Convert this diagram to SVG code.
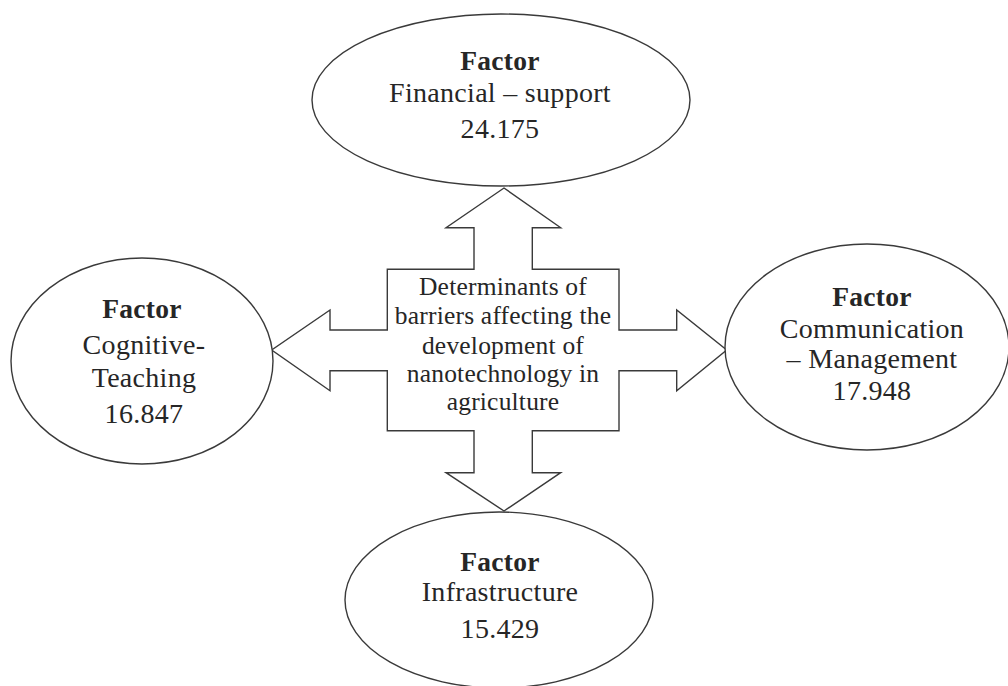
<svg xmlns="http://www.w3.org/2000/svg" width="1008" height="686" viewBox="0 0 1008 686">
<style>
.shape{fill:#fff;stroke:#3a3a3a;stroke-width:1.4}
.t{font-family:"Liberation Serif","Times New Roman",serif;fill:#262626;text-anchor:middle}
.n{font-size:28px;letter-spacing:0.3px}
.b{font-size:27.5px;font-weight:bold;letter-spacing:0.3px}
.c{font-size:25.5px;letter-spacing:0.2px}
</style>
<rect width="1008" height="686" fill="#fff"/>
<g id="connectors">
<polygon class="shape" points="504,188 560.7,227.7 532.3,227.7 532.3,269.3 619,269.3 619,330 676.7,330 676.7,310 726.7,350 676.7,390.7 676.7,370.7 619,370.7 619,430.7 532.3,430.7 532.3,472.7 560.7,472.7 504,511 446,472.7 474,472.7 474,430.7 387.3,430.7 387.3,370.7 330,370.7 330,390.7 271.7,350 330,310 330,330 387.3,330 387.3,269.3 474,269.3 474,227.7 446,227.7"/>
</g>
<g id="center">
<text class="t c" x="503" y="295">Determinants of</text>
<text class="t c" x="503" y="324">barriers affecting the</text>
<text class="t c" x="503" y="354">development of</text>
<text class="t c" x="503" y="382">nanotechnology in</text>
<text class="t c" x="503" y="410">agriculture</text>
</g>
<g id="financial">
<ellipse class="shape" cx="501" cy="100" rx="189" ry="86"/>
<text class="t b" x="500" y="70">Factor</text>
<text class="t n" x="500" y="102">Financial – support</text>
<text class="t n" x="500" y="138">24.175</text>
</g>
<g id="cognitive">
<ellipse class="shape" cx="142" cy="361" rx="131" ry="103"/>
<text class="t b" x="142" y="318">Factor</text>
<text class="t n" x="144" y="354">Cognitive-</text>
<text class="t n" x="144" y="387">Teaching</text>
<text class="t n" x="144" y="423">16.847</text>
</g>
<g id="communication">
<ellipse class="shape" cx="867" cy="347" rx="142" ry="103"/>
<text class="t b" x="872" y="306">Factor</text>
<text class="t n" x="872" y="338">Communication</text>
<text class="t n" x="872" y="368">– Management</text>
<text class="t n" x="872" y="400">17.948</text>
</g>
<g id="infrastructure">
<ellipse class="shape" cx="499" cy="600" rx="154" ry="88"/>
<text class="t b" x="500" y="571">Factor</text>
<text class="t n" x="500" y="601">Infrastructure</text>
<text class="t n" x="500" y="638">15.429</text>
</g>
</svg>
